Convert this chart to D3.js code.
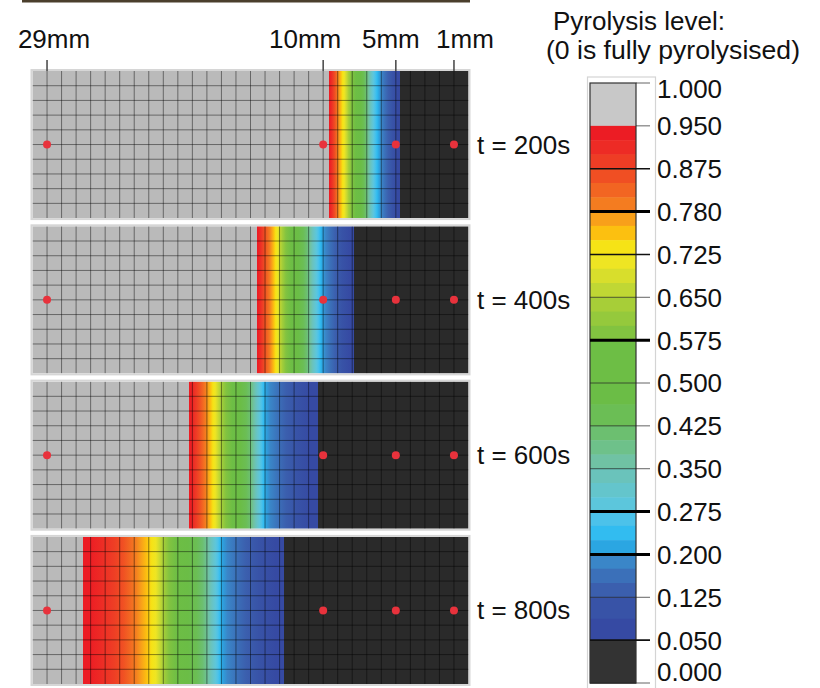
<!DOCTYPE html>
<html lang="en">
<head>
<meta charset="utf-8">
<title>Pyrolysis level</title>
<script src="https://cdn.jsdelivr.net/npm/d3@7"></script>
<style>
  body { margin: 0; background: #fff; }
  svg { display: block; font-family: "Liberation Sans", Arial, sans-serif; }
</style>
</head>
<body>
<svg id="chart" width="820" height="688"></svg>
<script>
// ---- data ----
var times = ["t = 200s", "t = 400s", "t = 600s", "t = 800s"];

// thermocouple depths (mm from the heated face)
var probeDepths = [29, 10, 5, 1];
var probeLabels = ["29mm", "10mm", "5mm", "1mm"];

// colour bar ticks, top to bottom
var levelTicks = ["1.000", "0.950", "0.875", "0.780", "0.725", "0.650", "0.575",
                  "0.500", "0.425", "0.350", "0.275", "0.200", "0.125", "0.050", "0.000"];
var boldTicks = ["0.780", "0.575", "0.275", "0.200"];
var mediumTicks = ["0.875", "0.725", "0.050"];

// stepped colours inside each band of the bar (band i sits between tick i and i+1)
var bandColors = [
  ["#c8c8c8"],
  ["#ec1c24", "#ed2b25", "#ee3d25"],
  ["#f04f23", "#f26522", "#f47c20"],
  ["#f8a01a", "#fcc010", "#f6e316"],
  ["#eee523", "#d8de2c", "#c0d734"],
  ["#a7ce38", "#95c93c", "#82c340"],
  ["#6dbe45"],
  ["#6bbd46", "#6bbe55"],
  ["#6cbf70", "#6ec18a", "#70c2a4"],
  ["#6ac3bb", "#64c5cc", "#5cc6dc"],
  ["#4cc2ea", "#32bcf0", "#2ba6e2"],
  ["#3a86c8", "#3b70b9", "#3b5fae"],
  ["#3853a7", "#364aa3"],
  ["#333333"]
];

// depth (mm) at which the level crosses 0.950, 0.875, ... 0.050 in each panel
var front200 = [9.63, 9.25, 8.95, 8.6, 8.3, 8.0, 7.5, 7.1, 6.8, 6.5, 6.1, 5.4, 4.70];
var front400 = [14.58, 14.1, 13.6, 13.2, 12.9, 12.5, 11.9, 11.2, 10.8, 10.4, 10.0, 9.0, 7.87];
var front600 = [19.25, 18.6, 18.0, 17.5, 17.1, 16.6, 15.9, 15.1, 14.7, 14.3, 13.9, 12.3, 10.38];
var front800 = [26.55, 24.0, 22.7, 21.6, 21.1, 20.5, 19.6, 18.4, 17.8, 17.3, 16.9, 15.0, 12.71];
var fronts = [front200, front400, front600, front800];

var sampleDepth = 30;   // mm
var sampleHeight = 10;  // mm
var virginColor = "#bababa";
var charColor = "#2a2a2a";

var svg = d3.select("#chart");

// strip of the photo cut off at the top
svg.append("rect")
    .attr("x", 22).attr("y", 0).attr("width", 448).attr("height", 2.5)
    .attr("fill", "#4b3f2c");

var x = d3.scaleLinear().domain([sampleDepth, 0]).range([32.5, 468.5]);
var panelY = d3.scaleBand().domain(times).range([71, 684]).paddingInner(0.053);

var defs = svg.append("defs");

times.forEach(function (t, p) {
  var top = panelY(t);
  var h = panelY.bandwidth();
  var y = d3.scaleLinear().domain([sampleHeight, 0]).range([top, top + h]);
  var x0 = x(sampleDepth), w = x(0) - x0;
  var off = function (d) { return (x(d) - x0) / w; };
  var f = fronts[p];

  // build the stops of the pyrolysis profile
  var stops = [{o: 0, c: virginColor}, {o: off(f[0]), c: virginColor}, {o: off(f[0]), c: bandColors[1][0]}];
  for (var i = 0; i < f.length - 1; i++) {
    var cols = bandColors[i + 1];
    for (var k = 0; k < cols.length; k++) {
      var d = f[i] + (f[i + 1] - f[i]) * (k + 0.5) / cols.length;
      stops.push({o: off(d), c: cols[k]});
    }
  }
  var last = bandColors[12];
  stops.push({o: off(f[f.length - 1]), c: last[last.length - 1]});
  stops.push({o: off(f[f.length - 1]), c: charColor});
  stops.push({o: 1, c: charColor});

  var grad = defs.append("linearGradient")
      .attr("id", "prof" + p)
      .attr("x1", 0).attr("x2", 1).attr("y1", 0).attr("y2", 0);
  grad.selectAll("stop").data(stops).join("stop")
      .attr("offset", function (s) { return s.o; })
      .attr("stop-color", function (s) { return s.c; });

  var g = svg.append("g");
  g.append("rect")
      .attr("x", x0).attr("y", top).attr("width", w).attr("height", h)
      .attr("fill", "url(#prof" + p + ")");

  // 1mm mesh
  g.selectAll(".vline").data(d3.range(1, sampleDepth)).join("line")
      .attr("x1", function (d) { return x(d); }).attr("x2", function (d) { return x(d); })
      .attr("y1", top).attr("y2", top + h)
      .attr("stroke", "#000").attr("stroke-opacity", 0.45).attr("stroke-width", 1);
  g.selectAll(".hline").data(d3.range(1, sampleHeight)).join("line")
      .attr("x1", x0).attr("x2", x0 + w)
      .attr("y1", function (d) { return y(d); }).attr("y2", function (d) { return y(d); })
      .attr("stroke", "#000").attr("stroke-opacity", 0.45).attr("stroke-width", 1);

  g.append("rect")
      .attr("x", x0 - 1).attr("y", top - 1).attr("width", w + 2).attr("height", h + 2)
      .attr("fill", "none").attr("stroke", "#d6d6d6").attr("stroke-width", 2);

  // thermocouple positions
  g.selectAll(".probe").data(probeDepths).join("circle")
      .attr("cx", function (d) { return x(d); })
      .attr("cy", y(sampleHeight / 2))
      .attr("r", 4)
      .attr("fill", "#e8323c");

  g.append("text")
      .attr("x", 477).attr("y", y(sampleHeight / 2) + 9)
      .attr("font-size", 26).attr("fill", "#111")
      .text(t);
});

// depth markers above the first panel
var labelShift = [7, -18, -5, 11];
var firstTop = panelY(times[0]);
svg.selectAll(".mark").data(probeDepths).join("line")
    .attr("x1", function (d) { return x(d); }).attr("x2", function (d) { return x(d); })
    .attr("y1", firstTop - 11).attr("y2", firstTop)
    .attr("stroke", "#444").attr("stroke-width", 1.5);
svg.selectAll(".marklabel").data(probeDepths).join("text")
    .attr("x", function (d, i) { return x(d) + labelShift[i]; })
    .attr("y", 48)
    .attr("text-anchor", "middle")
    .attr("font-size", 26).attr("fill", "#111")
    .text(function (d, i) { return probeLabels[i]; });

// ---- colour bar ----
var barX = 590, barW = 46;
var barY = d3.scalePoint().domain(levelTicks).range([83, 683]);

svg.append("rect")
    .attr("x", 587.5).attr("y", 77).attr("width", 68).attr("height", 620)
    .attr("fill", "#fff").attr("stroke", "#d4d4d4").attr("stroke-width", 1.2);

var bar = svg.append("g");
bandColors.forEach(function (cols, i) {
  var yTop = barY(levelTicks[i]), yBot = barY(levelTicks[i + 1]);
  var sub = (yBot - yTop) / cols.length;
  bar.selectAll(null).data(cols).join("rect")
      .attr("x", barX).attr("width", barW)
      .attr("y", function (c, k) { return yTop + k * sub; })
      .attr("height", sub + 0.5)
      .attr("fill", function (c) { return c; });
});
bar.append("rect")
    .attr("x", barX).attr("y", barY(levelTicks[0]))
    .attr("width", barW).attr("height", barY(levelTicks[levelTicks.length - 1]) - barY(levelTicks[0]))
    .attr("fill", "none").attr("stroke", "#333").attr("stroke-width", 1.2);

var tickStyle = function (t) {
  if (boldTicks.indexOf(t) >= 0) return {w: 3, c: "#000", o: 1};
  if (mediumTicks.indexOf(t) >= 0) return {w: 1.6, c: "#111", o: 1};
  return {w: 1, c: "#222", o: 0.7};
};

// tick lines cross the bar and stick out to the right
bar.selectAll(".tick").data(levelTicks).join("line")
    .attr("x1", function (t, i) { return (i === 0 || i === 1) ? barX + barW : barX; })
    .attr("x2", barX + barW + 14)
    .attr("y1", function (t) { return barY(t); })
    .attr("y2", function (t) { return barY(t); })
    .attr("stroke", function (t) { return tickStyle(t).c; })
    .attr("stroke-opacity", function (t) { return tickStyle(t).o; })
    .attr("stroke-width", function (t) { return tickStyle(t).w; });

svg.selectAll(".ticklabel").data(levelTicks).join("text")
    .attr("x", 657)
    .attr("y", function (t, i) {
      var nudge = i === 0 ? 6 : (i === levelTicks.length - 1 ? -11 : 0);
      return barY(t) + nudge;
    })
    .attr("dy", "0.36em")
    .attr("font-size", 26).attr("fill", "#111")
    .text(function (t) { return t; });

svg.append("text")
    .attr("x", 553).attr("y", 30)
    .attr("font-size", 26).attr("fill", "#111")
    .text("Pyrolysis level:");
svg.append("text")
    .attr("x", 546).attr("y", 59)
    .attr("font-size", 26).attr("fill", "#111")
    .attr("textLength", 254).attr("lengthAdjust", "spacingAndGlyphs")
    .text("(0 is fully pyrolysised)");
</script>
</body>
</html>
